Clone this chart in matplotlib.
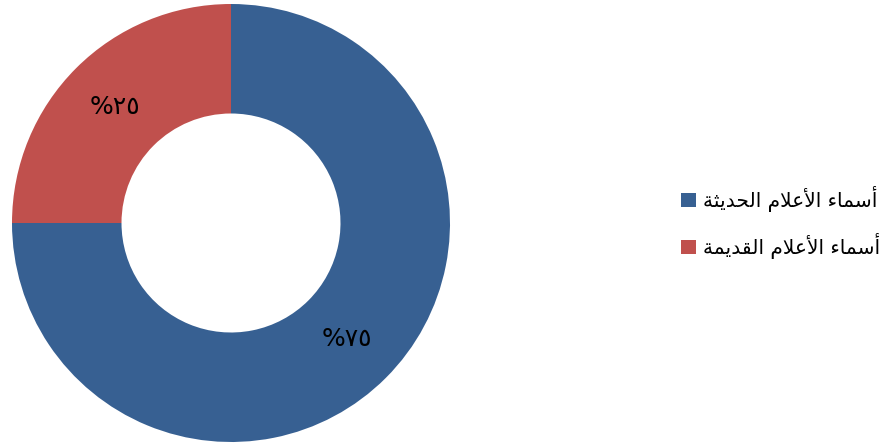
import matplotlib
matplotlib.use("Agg")
import matplotlib.pyplot as plt
from matplotlib.patches import Patch

# data
labels = ["أسماء الأعلام الحديثة", "أسماء الأعلام القديمة"]
values = [75, 25]
colors = ["#376092", "#C0504D"]

# minimal arabic shaping (matplotlib does no shaping / bidi)
FORMS = {
    'ء': ('\ufe80', None, None, None),
    'أ': ('\ufe83', '\ufe84', None, None),
    'ا': ('\ufe8d', '\ufe8e', None, None),
    'ة': ('\ufe93', '\ufe94', None, None),
    'ث': ('\ufe99', '\ufe9a', '\ufe9b', '\ufe9c'),
    'ح': ('\ufea1', '\ufea2', '\ufea3', '\ufea4'),
    'د': ('\ufea9', '\ufeaa', None, None),
    'س': ('\ufeb1', '\ufeb2', '\ufeb3', '\ufeb4'),
    'ع': ('\ufec9', '\ufeca', '\ufecb', '\ufecc'),
    'ق': ('\ufed5', '\ufed6', '\ufed7', '\ufed8'),
    'ل': ('\ufedd', '\ufede', '\ufedf', '\ufee0'),
    'م': ('\ufee1', '\ufee2', '\ufee3', '\ufee4'),
    'ي': ('\ufef1', '\ufef2', '\ufef3', '\ufef4'),
}
LAM_ALEF = {'ا': ('\ufefb', '\ufefc'), 'أ': ('\ufef7', '\ufef8')}


def shape(s):
    tokens = []
    i = 0
    while i < len(s):
        if s[i] == 'ل' and i + 1 < len(s) and s[i + 1] in LAM_ALEF:
            tokens.append(('LA', s[i + 1]))
            i += 2
        else:
            tokens.append(('C', s[i]))
            i += 1

    def joins_next(tok):
        if tok[0] == 'LA':
            return False
        f = FORMS.get(tok[1])
        return f is not None and f[2] is not None

    def joins_prev(tok):
        if tok[0] == 'LA':
            return True
        f = FORMS.get(tok[1])
        return f is not None and f[1] is not None

    out = []
    for k, tok in enumerate(tokens):
        prev = k > 0 and joins_next(tokens[k - 1]) and joins_prev(tok)
        nxt = k + 1 < len(tokens) and joins_next(tok) and joins_prev(tokens[k + 1])
        if tok[0] == 'LA':
            out.append(LAM_ALEF[tok[1]][1 if prev else 0])
            continue
        f = FORMS.get(tok[1])
        if f is None:
            out.append(tok[1])
        elif prev and nxt:
            out.append(f[3])
        elif prev:
            out.append(f[1])
        elif nxt:
            out.append(f[2])
        else:
            out.append(f[0])
    return ''.join(reversed(out))


AR_DIGITS = str.maketrans("0123456789", "٠١٢٣٤٥٦٧٨٩")


def pct_label(p):
    return "%" + str(int(round(p))).translate(AR_DIGITS)


plt.rcParams['font.family'] = ['DejaVu Sans']

fig = plt.figure(figsize=(8.84, 4.47), dpi=100)
ax = fig.add_axes([12 / 884, 5 / 447, 438 / 884, 438 / 447])
wedges, texts, autotexts = ax.pie(values, colors=colors, startangle=90, counterclock=False,
                                  radius=1, wedgeprops=dict(width=0.5, linewidth=0),
                                  autopct=pct_label, pctdistance=0.75,
                                  textprops=dict(fontsize=18, color="black"))
ax.set_xlim(-1, 1)
ax.set_ylim(-1, 1)
ax.set_aspect("equal")

handles = [Patch(facecolor=c) for c in colors]
fig.legend(handles, [shape(l) for l in labels], loc="upper left",
           bbox_to_anchor=(663 / 884, 1 - 168 / 447), frameon=False,
           fontsize=14.5, handlelength=0.72, handleheight=0.72, handletextpad=0.35,
           labelspacing=1.05)

fig.savefig("out.png", dpi=100)
